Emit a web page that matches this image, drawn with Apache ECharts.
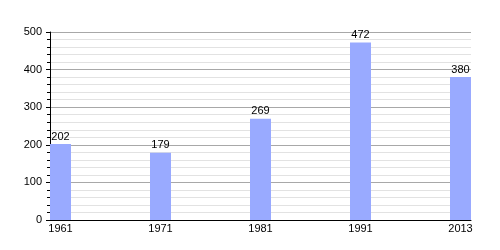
<!DOCTYPE html>
<html><head><meta charset="utf-8">
<script src="https://cdn.jsdelivr.net/npm/echarts@6/dist/echarts.min.js"></script>
<style>html,body{margin:0;padding:0;background:#fff}#c{width:500px;height:250px}</style>
</head><body><div id="c"></div>
<script>
const years = ['1961', '1971', '1981', '1991', '2013'];
const population = [202, 179, 269, 472, 380];
const yTicks = [0, 100, 200, 300, 400, 500];

const chart = echarts.init(document.getElementById('c'), null, {renderer: 'canvas'});
const font = 'Liberation Sans, Arial, sans-serif';
chart.setOption({
  animation: false,
  grid: {left: 50, right: 29, top: 32, bottom: 30},
  xAxis: {
    type: 'value', min: -0.105, max: 4.105,
    axisLine: {show: true, lineStyle: {color: '#000', width: 1}, onZero: false},
    axisTick: {show: false},
    splitLine: {show: false},
    axisLabel: {
      customValues: years.map((y, i) => i),
      formatter: v => years[Math.round(v)],
      color: '#000', fontSize: 11, fontFamily: font, margin: 3
    }
  },
  yAxis: {
    type: 'value', min: yTicks[0], max: yTicks[yTicks.length - 1], interval: 100,
    axisLine: {show: true, onZero: false, lineStyle: {color: '#000', width: 1}},
    axisTick: {show: true, length: 4, lineStyle: {color: '#000'}},
    minorTick: {show: true, splitNumber: 5, length: 3, lineStyle: {color: '#000'}},
    splitLine: {show: true, lineStyle: {color: '#a8a8a8', width: 1}},
    minorSplitLine: {show: true, lineStyle: {color: '#e2e2e2', width: 1}},
    axisLabel: {color: '#000', fontSize: 11, fontFamily: font, margin: 8}
  },
  series: [{
    type: 'bar',
    barWidth: 21,
    data: population.map((v, i) => [i, v]),
    itemStyle: {color: '#99aaff'},
    label: {show: true, position: 'top', distance: 2, color: '#000', fontSize: 11, fontFamily: font,
      formatter: p => p.value[1]}
  }]
});
</script></body></html>
